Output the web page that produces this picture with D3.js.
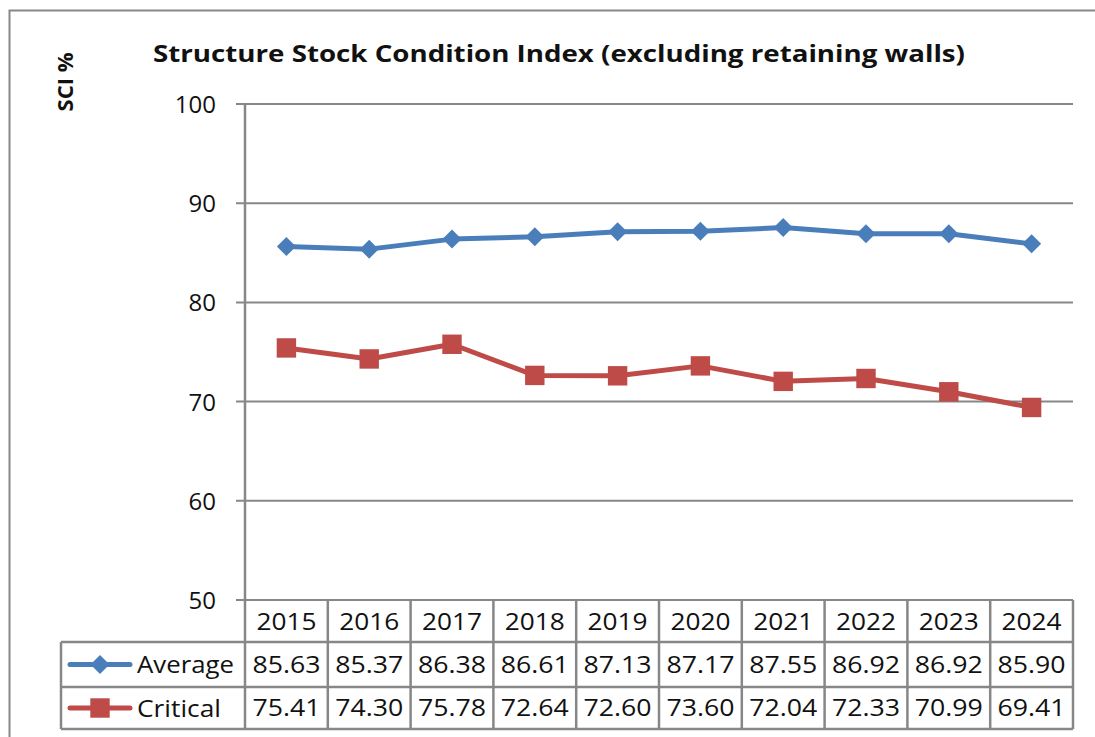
<!DOCTYPE html>
<html>
<head>
<meta charset="utf-8">
<script src="https://cdn.jsdelivr.net/npm/d3@7"></script>
<style>
  body { margin: 0; background: #fff; }
  svg { display: block; }
  text { font-family: "Open Sans", "DejaVu Sans", sans-serif; fill: #111; }
</style>
</head>
<body>
<div id="chart"></div>
<script>
const years = ["2015", "2016", "2017", "2018", "2019", "2020", "2021", "2022", "2023", "2024"];
const averageValues = [85.63, 85.37, 86.38, 86.61, 87.13, 87.17, 87.55, 86.92, 86.92, 85.90];
const criticalValues = [75.41, 74.30, 75.78, 72.64, 72.60, 73.60, 72.04, 72.33, 70.99, 69.41];
const yTicks = [50, 60, 70, 80, 90, 100];
const seriesNames = ["Average", "Critical"];

const WIDTH = 1095;
const HEIGHT = 737;
const GRID = "#878787";
const BLUE = "#4a7ebb";
const RED = "#be4b48";
const FONT_SIZE = 24;

const plot = { left: 245, right: 1073, top: 104, bottom: 600 };
const rowH = [42, 45, 42]; // header, average, critical
const legendLeft = 61;

const svg = d3.select("#chart").append("svg")
  .attr("width", WIDTH)
  .attr("height", HEIGHT);

// outer chart border
svg.append("rect")
  .attr("x", 9.5).attr("y", 10.5)
  .attr("width", 1100).attr("height", 760)
  .attr("fill", "none")
  .attr("stroke", GRID)
  .attr("stroke-width", 2);

const x = d3.scaleBand().domain(years).range([plot.left, plot.right]);
const y = d3.scaleLinear().domain([50, 100]).range([plot.bottom, plot.top]);

// title
svg.append("text")
  .attr("x", 559).attr("y", 62)
  .attr("text-anchor", "middle")
  .attr("font-size", 24)
  .attr("font-weight", "bold")
  .attr("textLength", 812)
  .attr("lengthAdjust", "spacingAndGlyphs")
  .text("Structure Stock Condition Index (excluding retaining walls)");

// y label
svg.append("text")
  .attr("transform", "translate(73,82) rotate(-90)")
  .attr("text-anchor", "middle")
  .attr("font-size", 22)
  .attr("font-weight", "bold")
  .text("SCI %");

// gridlines
svg.append("g")
  .selectAll("line")
  .data(yTicks)
  .join("line")
  .attr("x1", plot.left - 9).attr("x2", plot.right)
  .attr("y1", d => y(d)).attr("y2", d => y(d))
  .attr("stroke", GRID).attr("stroke-width", 2);

// y axis labels
svg.append("g")
  .selectAll("text")
  .data(yTicks)
  .join("text")
  .attr("x", 216)
  .attr("y", d => y(d) + 9)
  .attr("text-anchor", "end")
  .attr("font-size", FONT_SIZE)
  .text(d => d);

// data table
const tableTop = plot.bottom;
const rowTops = [tableTop, tableTop + rowH[0], tableTop + rowH[0] + rowH[1]];
const tableBottom = rowTops[2] + rowH[2];
const tg = svg.append("g").attr("stroke", GRID).attr("stroke-width", 2.5).attr("fill", "none");

// horizontal table lines
tg.append("line").attr("x1", legendLeft).attr("x2", plot.right).attr("y1", rowTops[1]).attr("y2", rowTops[1]);
tg.append("line").attr("x1", legendLeft).attr("x2", plot.right).attr("y1", rowTops[2]).attr("y2", rowTops[2]);
tg.append("line").attr("x1", legendLeft).attr("x2", plot.right).attr("y1", tableBottom).attr("y2", tableBottom);
// vertical lines
tg.append("line").attr("x1", legendLeft).attr("x2", legendLeft).attr("y1", rowTops[1]).attr("y2", tableBottom);
tg.selectAll("line.col")
  .data(years)
  .join("line")
  .attr("class", "col")
  .attr("x1", d => x(d) + x.bandwidth()).attr("x2", d => x(d) + x.bandwidth())
  .attr("y1", tableTop).attr("y2", tableBottom);
// y axis line
tg.append("line").attr("x1", plot.left).attr("x2", plot.left).attr("y1", plot.top).attr("y2", tableBottom);

const cx = d => x(d) + x.bandwidth() / 2;

svg.append("g").selectAll("text")
  .data(years)
  .join("text")
  .attr("x", cx)
  .attr("y", rowTops[0] + 30)
  .attr("text-anchor", "middle")
  .attr("font-size", FONT_SIZE)
  .attr("textLength", 60)
  .attr("lengthAdjust", "spacingAndGlyphs")
  .text(d => d);

[averageValues, criticalValues].forEach((vals, r) => {
  svg.append("g").selectAll("text")
    .data(vals)
    .join("text")
    .attr("x", (d, i) => cx(years[i]))
    .attr("y", rowTops[r + 1] + (r === 0 ? 31 : 29))
    .attr("text-anchor", "middle")
    .attr("font-size", FONT_SIZE)
    .attr("textLength", 68)
    .attr("lengthAdjust", "spacingAndGlyphs")
    .text(d => d.toFixed(2));
});

// legend keys in table
const diamond = d3.symbol().type(d3.symbolDiamond2).size(230);
const square = d3.symbol().type(d3.symbolSquare2).size(480);
const keys = [
  { name: seriesNames[0], color: BLUE, sym: diamond },
  { name: seriesNames[1], color: RED, sym: square }
];
keys.forEach((k, r) => {
  const ky = rowTops[r + 1] + rowH[r + 1] / 2;
  svg.append("line")
    .attr("x1", 70).attr("x2", 130)
    .attr("y1", ky).attr("y2", ky)
    .attr("stroke", k.color).attr("stroke-width", 5)
    .attr("stroke-linecap", "round");
  svg.append("path")
    .attr("d", k.sym())
    .attr("transform", `translate(100,${ky})`)
    .attr("fill", k.color);
  svg.append("text")
    .attr("x", 137).attr("y", ky + 8.5)
    .attr("font-size", FONT_SIZE)
    .attr("textLength", r === 0 ? 97 : 84)
    .attr("lengthAdjust", "spacingAndGlyphs")
    .text(k.name);
});

// series lines
const line = d3.line().x((d, i) => cx(years[i])).y(d => y(d));
[[averageValues, BLUE, diamond], [criticalValues, RED, square]].forEach(([vals, col, sym]) => {
  svg.append("path")
    .datum(vals)
    .attr("d", line)
    .attr("fill", "none")
    .attr("stroke", col)
    .attr("stroke-width", 5)
    .attr("stroke-linejoin", "round");
  svg.append("g").selectAll("path")
    .data(vals)
    .join("path")
    .attr("d", sym)
    .attr("transform", (d, i) => `translate(${cx(years[i])},${y(d)})`)
    .attr("fill", col);
});
</script>
</body>
</html>
